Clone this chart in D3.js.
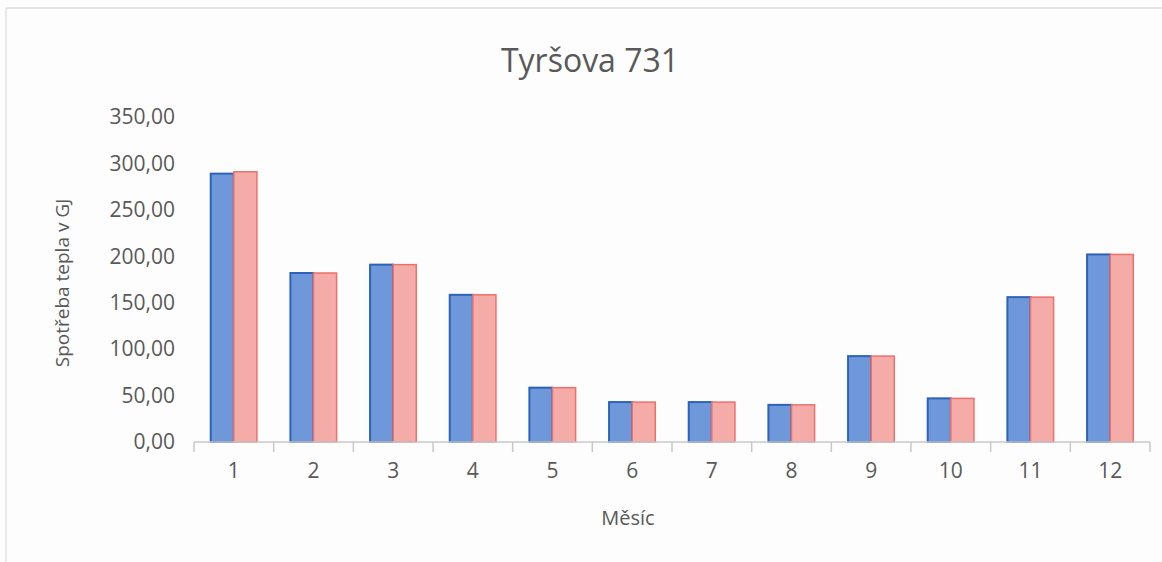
<!DOCTYPE html>
<html>
<head>
<meta charset="utf-8">
<script src="https://cdn.jsdelivr.net/npm/d3@7"></script>
<style>
  body { margin: 0; background: #ffffff; }
  svg { display: block; font-family: "Open Sans", sans-serif; }
</style>
</head>
<body>
<div id="graf"></div>
<script>
// data uit de grafiek
var mesice = ["1", "2", "3", "4", "5", "6", "7", "8", "9", "10", "11", "12"];
var rada1 = [289, 182, 191, 158.5, 58.5, 43, 43, 40, 92.5, 47, 156, 202];
var rada2 = [291, 182, 191, 158.5, 58.5, 43, 43, 40, 92.5, 47, 156, 202];
var yTicks = [0, 50, 100, 150, 200, 250, 300, 350];

var breedte = 1162, hoogte = 562;
var marge = {boven: 117, beneden: 120, links: 194, rechts: 12};

var svg = d3.select("#graf")
            .append("svg")
            .attr("width", breedte)
            .attr("height", hoogte);

// achtergrond en rand
svg.append("rect")
   .attr("width", breedte)
   .attr("height", hoogte)
   .attr("fill", "#fdfdfd");
svg.append("line")
   .attr("x1", 6).attr("x2", breedte).attr("y1", 8).attr("y2", 8)
   .attr("stroke", "#cfcfcf").attr("stroke-width", 1);
svg.append("line")
   .attr("x1", 6).attr("x2", 6).attr("y1", 8).attr("y2", hoogte)
   .attr("stroke", "#d6d6d6").attr("stroke-width", 1);

var x = d3.scaleBand()
          .domain(mesice)
          .range([marge.links, breedte - marge.rechts])
          .paddingInner(0.42)
          .paddingOuter(0.21);

var y = d3.scaleLinear()
          .domain([0, 350])
          .range([442, marge.boven]);

var series = d3.scaleBand()
               .domain(["a", "b"])
               .range([0, x.bandwidth()]);

var tekstKleur = "#595959";

// titel
svg.append("text")
   .attr("x", 590)
   .attr("y", 72)
   .attr("text-anchor", "middle")
   .attr("font-size", 32)
   .attr("fill", tekstKleur)
   .text("Tyršova 731");

// y-as labels
svg.append("g")
   .selectAll("text")
   .data(yTicks)
   .enter().append("text")
   .attr("x", 175)
   .attr("y", function(d) { return y(d); })
   .attr("dy", "0.35em")
   .attr("text-anchor", "end")
   .attr("font-size", 21)
   .attr("fill", tekstKleur)
   .text(function(d) { return d3.format(".2f")(d).replace(".", ","); });

// staven
var groep = svg.append("g")
               .selectAll("g")
               .data(mesice)
               .enter().append("g")
               .attr("transform", function(d) { return "translate(" + x(d) + ",0)"; });

groep.append("rect")
     .attr("x", series("a"))
     .attr("y", function(d, i) { return y(rada1[i]); })
     .attr("width", series.bandwidth())
     .attr("height", function(d, i) { return y(0) - y(rada1[i]); })
     .attr("fill", "#6e98da")
     .attr("stroke", "#2c63b9")
     .attr("stroke-width", 2);

groep.append("rect")
     .attr("x", series("b"))
     .attr("y", function(d, i) { return y(rada2[i]); })
     .attr("width", series.bandwidth())
     .attr("height", function(d, i) { return y(0) - y(rada2[i]); })
     .attr("fill", "#f5aba7")
     .attr("stroke", "#ec706b")
     .attr("stroke-width", 1.5);

// x-as
var xAs = svg.append("g");
xAs.append("line")
   .attr("x1", marge.links).attr("x2", breedte - marge.rechts)
   .attr("y1", y(0)).attr("y2", y(0))
   .attr("stroke", "#c8c8c8").attr("stroke-width", 1.5);

var grenzen = mesice.map(function(d) { return x(d) - x.step() * x.paddingInner() / 2; });
grenzen.push(breedte - marge.rechts);
xAs.selectAll(".tick")
   .data(grenzen)
   .enter().append("line")
   .attr("class", "tick")
   .attr("x1", function(d) { return d; })
   .attr("x2", function(d) { return d; })
   .attr("y1", y(0))
   .attr("y2", y(0) + 10)
   .attr("stroke", "#c8c8c8").attr("stroke-width", 1.5);

xAs.selectAll("text")
   .data(mesice)
   .enter().append("text")
   .attr("x", function(d) { return x(d) + x.bandwidth() / 2; })
   .attr("y", 471)
   .attr("dy", "0.35em")
   .attr("text-anchor", "middle")
   .attr("font-size", 21)
   .attr("fill", tekstKleur)
   .text(function(d) { return d; });

// as titels
svg.append("text")
   .attr("x", 628)
   .attr("y", 518)
   .attr("dy", "0.35em")
   .attr("text-anchor", "middle")
   .attr("font-size", 20)
   .attr("fill", tekstKleur)
   .text("Měsíc");

svg.append("text")
   .attr("transform", "translate(62,283) rotate(-90)")
   .attr("dy", "0.35em")
   .attr("text-anchor", "middle")
   .attr("font-size", 19)
   .attr("fill", tekstKleur)
   .text("Spotřeba tepla v GJ");
</script>
</body>
</html>
